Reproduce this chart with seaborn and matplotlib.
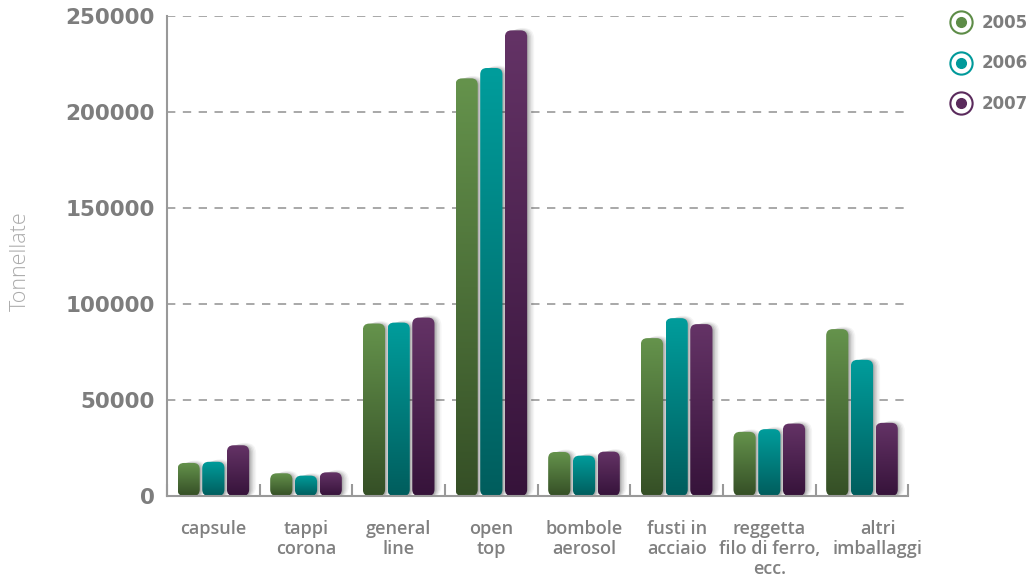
import numpy as np
import pandas as pd
import seaborn as sns
import matplotlib
matplotlib.use("Agg")
import matplotlib.pyplot as plt
import matplotlib.transforms as mtransforms
from matplotlib.patches import FancyBboxPatch
from matplotlib.lines import Line2D
from matplotlib.legend_handler import HandlerTuple
from matplotlib.colors import LinearSegmentedColormap

# Steel packaging put on the market, tonnes per year
categories = ["capsule", "tappi\ncorona", "general\nline", "open\ntop",
              "bombole\naerosol", "fusti in\nacciaio",
              "reggetta\nfilo di ferro,\necc.", "altri\nimballaggi"]
years = ["2005", "2006", "2007"]
t2005 = [17200, 11800, 89800, 217500, 22900, 82200, 33400, 86900]
t2006 = [17800, 10600, 90300, 222900, 21000, 92600, 34800, 70900]
t2007 = [26400, 12300, 92900, 242500, 23100, 89500, 37700, 38100]
yticks = [0, 50000, 100000, 150000, 200000, 250000]

# (light top, dark bottom, legend colour) for each year
palette = {
    "2005": ("#65934c", "#354f26", "#5d8c47"),
    "2006": ("#009d9c", "#005d5d", "#00999a"),
    "2007": ("#643366", "#36133a", "#5a2a5c"),
}

df = pd.DataFrame({
    "categoria": categories * 3,
    "anno": np.repeat(years, len(categories)),
    "tonnellate": t2005 + t2006 + t2007,
})

sns.set_theme(style="white")
plt.rcParams["font.family"] = ["DejaVu Sans"]

fig = plt.figure(figsize=(10.31, 5.79), dpi=100)
ax = fig.add_axes([0.162, 0.1434, 0.719, 0.829])

sns.barplot(data=df, x="categoria", y="tonnellate", hue="anno",
            order=categories, hue_order=years, width=0.8, gap=0.1,
            palette={y: palette[y][2] for y in years}, ax=ax, legend=False)

ax.set_xlim(-0.5, len(categories) - 0.5)
ax.set_ylim(0, 250000)

# pixels -> data units, used for rounding and shadow offsets
fig.canvas.draw()
px_x = 1.0 / (ax.transData.transform((1, 0))[0] - ax.transData.transform((0, 0))[0])
px_y = 1.0 / (ax.transData.transform((0, 1))[1] - ax.transData.transform((0, 0))[1])
aspect = px_y / px_x

grad = np.linspace(0, 1, 256).reshape(-1, 1)

for year, container in zip(years, ax.containers):
    light, dark, _ = palette[year]
    cmap = LinearSegmentedColormap.from_list("g" + year, [dark, light])
    for bar in container:
        x0, w, h = bar.get_x(), bar.get_width(), bar.get_height()
        bar.set_visible(False)
        r = 6.5 * px_x
        # soft drop shadow towards the right
        for k, a in [(7, 0.04), (5.5, 0.05), (4, 0.07), (2.5, 0.09), (1.2, 0.1)]:
            sh = FancyBboxPatch((x0 + k * px_x, -1 * px_y), w, h + 0.5 * k * px_y,
                                boxstyle=f"round,pad=0,rounding_size={r + k * px_x * 0.6}",
                                mutation_aspect=aspect, facecolor="black",
                                edgecolor="none", alpha=a, zorder=2, clip_on=False)
            ax.add_patch(sh)
        body = FancyBboxPatch((x0, 0), w, h,
                              boxstyle=f"round,pad=0,rounding_size={r}",
                              mutation_aspect=aspect, facecolor="none",
                              edgecolor="none", zorder=3)
        ax.add_patch(body)
        im = ax.imshow(grad, extent=(x0, x0 + w, 0, h), origin="lower",
                       cmap=cmap, aspect="auto", zorder=3, interpolation="bicubic")
        im.set_clip_path(body)

ax.set_xlim(-0.5, len(categories) - 0.5)
ax.set_ylim(0, 250000)

# grid and spines
ax.set_yticks(yticks)
ax.set_yticklabels([str(v) for v in yticks])
ax.yaxis.grid(True, color="#9a9a9a", linestyle=(0, (5, 4.5)), linewidth=1.2, zorder=1)
ax.xaxis.grid(False)
ax.set_axisbelow(True)
for side in ["top", "right"]:
    ax.spines[side].set_visible(False)
for side in ["left", "bottom"]:
    ax.spines[side].set_color("#999999")
    ax.spines[side].set_linewidth(1.5)
    ax.spines[side].set_zorder(4)

ax.tick_params(axis="y", length=0, pad=9, labelsize=15.5, labelcolor="#7d7d7d")
for lab in ax.get_yticklabels():
    lab.set_fontweight("bold")

ax.set_xticks(range(len(categories)))
ax.set_xticklabels(categories, fontsize=13, color="#808080", fontweight="semibold",
                   family=["Open Sans", "DejaVu Sans"], linespacing=1.15)
ax.tick_params(axis="x", which="major", length=0, pad=17)
ax.set_xticks(np.arange(-0.5, len(categories)), minor=True)
ax.tick_params(axis="x", which="minor", direction="in", length=9, width=1.5,
               color="#999999", bottom=True)
# last label sits a little to the right of its group
last = ax.get_xticklabels()[-1]
last.set_transform(last.get_transform() +
                   mtransforms.ScaledTranslation(16 / 100, 0, fig.dpi_scale_trans))

ax.set_xlabel("")
ax.set_ylabel("Tonnellate", fontsize=15.5, color="#ababab", fontweight="light",
              family=["Open Sans", "DejaVu Sans"])
ax.yaxis.set_label_coords(-0.1836, 0.49)

# legend: ringed dots
handles = []
for y in years:
    c = palette[y][2]
    ring = Line2D([], [], linestyle="none", marker="o", markersize=16,
                  markerfacecolor="white", markeredgecolor=c, markeredgewidth=1.5)
    dot = Line2D([], [], linestyle="none", marker="o", markersize=7,
                 markerfacecolor=c, markeredgecolor=c)
    handles.append((ring, dot))
leg = fig.legend(handles, years, handler_map={tuple: HandlerTuple(ndivide=1)},
                 loc="upper left", bbox_to_anchor=(0.908, 1.002), frameon=False,
                 labelspacing=1.35, handlelength=1.2, handletextpad=0.6,
                 prop={"size": 12, "weight": "bold"})
for t in leg.get_texts():
    t.set_color("#7d7d7d")

fig.savefig("out.png", dpi=100)
